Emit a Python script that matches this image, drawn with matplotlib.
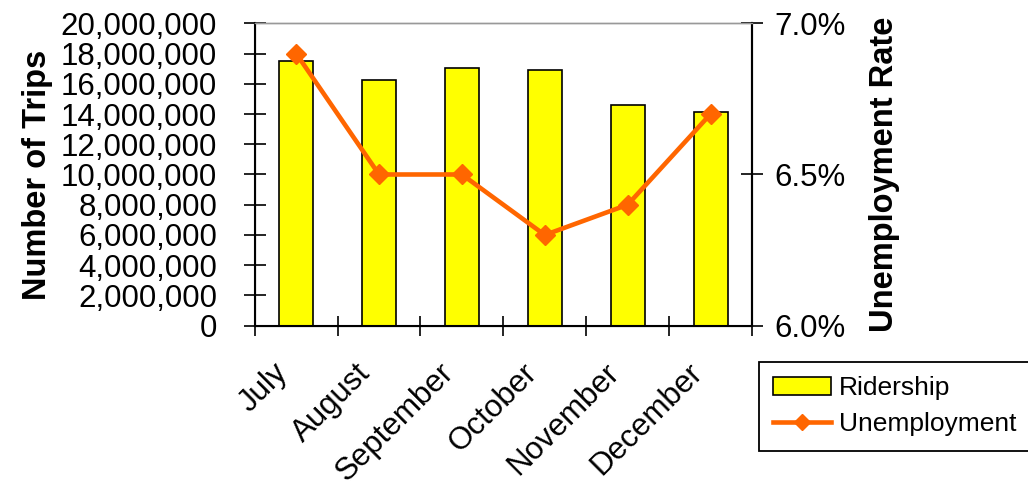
import matplotlib
matplotlib.use("Agg")
import matplotlib.pyplot as plt
from matplotlib.ticker import FuncFormatter, FixedLocator

plt.rcParams['font.family'] = ['Liberation Sans', 'DejaVu Sans']

months = ['July', 'August', 'September', 'October', 'November', 'December']
ridership = [17530000, 16250000, 17020000, 16900000, 14600000, 14150000]
unemployment = [6.9, 6.5, 6.5, 6.3, 6.4, 6.7]

fig = plt.figure(figsize=(10.28, 4.87), dpi=100)
ax = fig.add_axes([0.2478, 0.3312, 0.4837, 0.621])

x = list(range(len(months)))
bars = ax.bar(x, ridership, width=0.41, color='#FFFF00', edgecolor='black',
              linewidth=1.2, label='Ridership', zorder=2)
ax.set_xlim(-0.5, len(months) - 0.5)
ax.set_ylim(0, 20000000)
ax.set_yticks(range(0, 20000001, 2000000))
ax.yaxis.set_major_formatter(FuncFormatter(lambda v, p: f'{int(v):,}'))
# month labels sit a bit left of the bar centres (invisible major ticks)
ax.set_xticks([i - 0.28 for i in x])
ax.set_xticklabels(months, rotation=45, ha='right', va='top',
                   rotation_mode='anchor', fontsize=22.5)
ax.xaxis.set_minor_locator(FixedLocator([i - 0.5 for i in range(len(months) + 1)]))
ax.tick_params(axis='x', which='major', length=0, pad=23)
ax.tick_params(axis='x', which='minor', direction='inout', length=14, width=1.2)
ax.tick_params(axis='y', direction='inout', length=16, width=1.2, labelsize=22.5, pad=19)
ax.set_ylabel('Number of Trips', fontsize=23.5, fontweight='bold')
ax.yaxis.set_label_coords(-0.405, 0.5)

for s in ['left', 'bottom', 'right']:
    ax.spines[s].set_linewidth(1.5)
ax.spines['top'].set_color('#999999')
ax.spines['top'].set_linewidth(1.0)

ax2 = ax.twinx()
line, = ax2.plot(x, unemployment, color='#FF6600', linewidth=3.3, marker='D',
                 markersize=10.5, label='Unemployment', zorder=3)
ax2.set_ylim(6.0, 7.0)
ax2.set_yticks([6.0, 6.5, 7.0])
ax2.yaxis.set_major_formatter(FuncFormatter(lambda v, p: f'{v:.1f}%'))
ax2.tick_params(axis='y', direction='inout', length=16, width=1.2, labelsize=22.5, pad=8)
ax2.set_ylabel('Unemployment Rate', fontsize=23.5, fontweight='bold')
ax2.yaxis.set_label_coords(1.235, 0.5)
ax2.spines['right'].set_linewidth(1.5)
ax2.spines['top'].set_color('#999999')
ax2.spines['top'].set_linewidth(1.0)

leg = fig.legend([bars, line], ['Ridership', 'Unemployment'], loc='upper left',
                 bbox_to_anchor=(0.738, 0.257), fontsize=19, frameon=True,
                 fancybox=False, edgecolor='black', framealpha=1,
                 handlelength=2.2, handletextpad=0.3, borderpad=0.55,
                 labelspacing=0.45, borderaxespad=0)
leg.get_frame().set_linewidth(1.3)
leg.legend_handles[1].set_markersize(8)

fig.savefig('out.png', dpi=100)
